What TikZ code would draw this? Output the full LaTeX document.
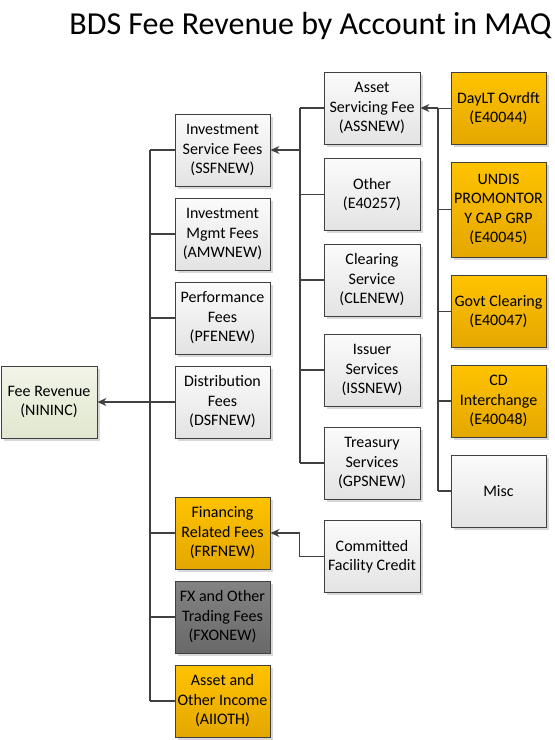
\documentclass[tikz,border=0pt]{standalone}
\usepackage{fontspec}
\setmainfont{Carlito}
\usetikzlibrary{arrows.meta,shadows}
\definecolor{lineclr}{HTML}{404040}
\definecolor{boxtop}{HTML}{FBFBFB}
\definecolor{boxbot}{HTML}{E3E3E3}
\definecolor{revtop}{HTML}{F1F4E8}
\definecolor{revbot}{HTML}{E1E7CE}
\definecolor{orgtop}{HTML}{FFC300}
\definecolor{orgbot}{HTML}{E4A700}
\definecolor{grytop}{HTML}{838383}
\definecolor{grybot}{HTML}{696969}
\begin{document}
\begin{tikzpicture}[x=1pt,y=-1pt,>={Stealth[length=9pt,width=8pt]},
	acct/.style={draw=lineclr,line width=0.9pt,minimum width=95pt,minimum height=72pt,align=center,
		top color=boxtop,bottom color=boxbot,inner sep=1pt,
		font=\fontsize{16}{19.5}\selectfont,
		drop shadow={shadow xshift=2.5pt,shadow yshift=-2.5pt,fill=black!22,opacity=0.7}},
	orange/.style={acct,top color=orgtop,bottom color=orgbot},
	grey/.style={acct,top color=grytop,bottom color=grybot},
	link/.style={draw=lineclr,line width=1.2pt}]
	\useasboundingbox (0,0) rectangle (555,740);

	\node[anchor=base,font=\fontsize{32}{38}\selectfont] (title) at (310.5,34) {BDS Fee Revenue by Account in MAQ};

	% root
	\node[acct,minimum width=96pt,top color=revtop,bottom color=revbot] (rev) at (49,402) {Fee Revenue\\(NININC)};

	% second level
	\node[acct] (ssf) at (222.5,150) {Investment\\Service Fees\\(SSFNEW)};
	\node[acct] (amw) at (222.5,234) {Investment\\Mgmt Fees\\(AMWNEW)};
	\node[acct] (pfe) at (222.5,318) {Performance\\Fees\\(PFENEW)};
	\node[acct] (dsf) at (222.5,402) {Distribution\\Fees\\(DSFNEW)};
	\node[orange] (frf) at (222.5,533) {Financing\\Related Fees\\(FRFNEW)};
	\node[grey] (fxo) at (222.5,617) {FX and Other\\Trading Fees\\(FXONEW)};
	\node[orange] (aii) at (222.5,701) {Asset and\\Other Income\\(AIIOTH)};

	% third level
	\node[acct,minimum width=96pt] (ass) at (372,108) {Asset\\Servicing Fee\\(ASSNEW)};
	\node[acct,minimum width=96pt] (oth) at (372,194.5) {Other\\(E40257)};
	\node[acct,minimum width=96pt] (cle) at (372,280) {Clearing\\Service\\(CLENEW)};
	\node[acct,minimum width=96pt] (iss) at (372,370) {Issuer\\Services\\(ISSNEW)};
	\node[acct,minimum width=96pt] (gps) at (372,463) {Treasury\\Services\\(GPSNEW)};
	\node[acct,minimum width=96pt] (cfc) at (372,556.5) {Committed\\Facility Credit};

	% fourth level
	\node[orange] (day) at (498.5,108.5) {DayLT Ovrdft\\(E40044)};
	\node[orange,minimum height=95pt] (und) at (498.5,209.5) {UNDIS\\PROMONTOR\\Y CAP GRP\\(E40045)};
	\node[orange] (gov) at (498.5,311.5) {Govt Clearing\\(E40047)};
	\node[orange] (cdi) at (498.5,401) {CD\\Interchange\\(E40048)};
	\node[acct] (misc) at (498.5,491) {Misc};

	% trunks
	\coordinate (t2) at (150,402);
	\coordinate (t3) at (300,150);
	\coordinate (t4) at (438,108);

	\foreach \n in {ssf,amw,pfe,dsf,frf,fxo,aii}
		\draw[link] (\n.west) -- (\n.west -| t2);
	\draw[link] (ssf.west -| t2) -- (aii.west -| t2);
	\draw[link,->] (t2) -- (rev.east);

	\foreach \n in {ass,oth,cle,iss,gps}
		\draw[link] (\n.west) -- (\n.west -| t3);
	\draw[link] (ass.west -| t3) -- (gps.west -| t3);
	\draw[link,->] (t3) -- (ssf.east);

	\foreach \n in {day,und,gov,cdi,misc}
		\draw[link] (\n.west) -- (\n.west -| t4);
	\draw[link] (day.west -| t4) -- (misc.west -| t4);
	\draw[link,->] (t4) -- (ass.east);

	\draw[link,->] (cfc.west) -- ++(-24,0) |- (frf.east);
\end{tikzpicture}
\end{document}
